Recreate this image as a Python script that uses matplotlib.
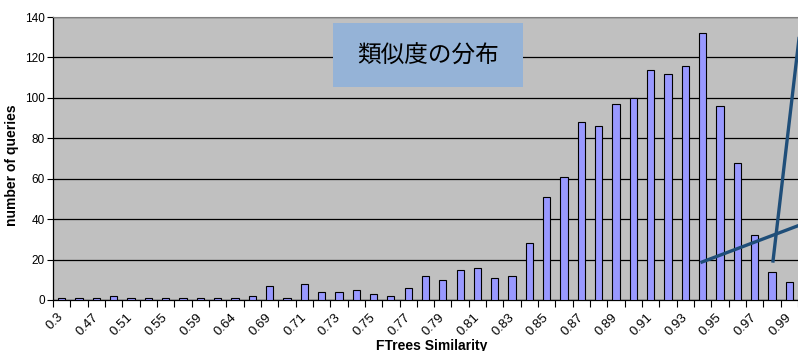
import matplotlib
matplotlib.use("Agg")
import matplotlib.pyplot as plt
from matplotlib.patches import Rectangle
from matplotlib.lines import Line2D
import numpy as np

plt.rcParams['font.family'] = ['Liberation Sans', 'DejaVu Sans']

categories = ["0.3", "0.44", "0.47", "0.5", "0.51", "0.53", "0.55", "0.57", "0.59", "0.62",
              "0.64", "0.67", "0.69", "0.7", "0.71", "0.72", "0.73", "0.74", "0.75", "0.76",
              "0.77", "0.78", "0.79", "0.8", "0.81", "0.82", "0.83", "0.84", "0.85", "0.86",
              "0.87", "0.88", "0.89", "0.9", "0.91", "0.92", "0.93", "0.94", "0.95", "0.96",
              "0.97", "0.98", "0.99"]
counts = [1, 1, 1, 2, 1, 1, 1, 1, 1, 1,
          1, 2, 7, 1, 8, 4, 4, 5, 3, 2,
          6, 12, 10, 15, 16, 11, 12, 28, 51, 61,
          88, 86, 97, 100, 114, 112, 116, 132, 96, 68,
          32, 14, 9]
tick_labels = ["0.3", "0.47", "0.51", "0.55", "0.59", "0.64", "0.69", "0.71", "0.73", "0.75",
               "0.77", "0.79", "0.81", "0.83", "0.85", "0.87", "0.89", "0.91", "0.93", "0.95",
               "0.97", "0.99"]
y_ticks = [0, 20, 40, 60, 80, 100, 120, 140]
title = "類似度の分布"

W, H = 798, 351
fig = plt.figure(figsize=(W/100, H/100), dpi=100)
ax = fig.add_axes([53/W, 51/H, 745/W, 283/H])
ax.set_facecolor('#C0C0C0')

x = np.arange(len(categories))
ax.bar(x, counts, width=0.42, color='#9999FF', edgecolor='black', linewidth=0.8, zorder=3)
ax.set_xlim(-0.5, len(categories) - 0.5)
ax.set_ylim(0, 140)
ax.set_yticks(y_ticks)
ax.set_yticklabels([str(v) for v in y_ticks], fontsize=8.5)
ax.yaxis.grid(True, color='black', linewidth=0.9, zorder=1)
ax.tick_params(axis='y', length=4, width=0.8, pad=2)

pos = [categories.index(t) for t in tick_labels]
ax.set_xticks(pos)
ax.set_xticklabels(tick_labels, rotation=45, ha='right', va='center', rotation_mode='anchor', fontsize=9.5)
ax.tick_params(axis='x', which='major', length=0, pad=11)
ax.set_xticks(np.arange(-0.5, len(categories), 1), minor=True)
ax.tick_params(axis='x', which='minor', length=5, width=0.8, direction='out')

ax.spines['right'].set_visible(False)
ax.spines['top'].set_color('#808080')
ax.spines['left'].set_linewidth(0.9)
ax.spines['bottom'].set_linewidth(0.9)

fig.text(12/W, 1 - 165/H, "number of queries", rotation=90, fontsize=10, fontweight='bold',
         ha='center', va='center')
fig.text(432/W, 1 - 346/H, "FTrees Similarity", fontsize=10, fontweight='bold', ha='center', va='center')

# title box
fig.patches.append(Rectangle((333/W, 1 - 87/H), 190/W, 64/H, transform=fig.transFigure,
                             facecolor='#95B3D7', edgecolor='none', zorder=5))
fig.text(428/W, 1 - 56/H, title, fontsize=17, ha='center', va='center',
         family=['Noto Sans CJK JP', 'DejaVu Sans'], zorder=6)

# annotation lines
def fp(px, py):
    return px / W, 1 - py / H

for (a, b) in [((702, 262), (800, 225)), ((773, 261), (800, 30))]:
    p1, p2 = fp(*a), fp(*b)
    fig.lines.append(Line2D([p1[0], p2[0]], [p1[1], p2[1]], transform=fig.transFigure,
                            color='#1F4E79', linewidth=2.4, zorder=7))

fig.savefig("out.png", dpi=100)
